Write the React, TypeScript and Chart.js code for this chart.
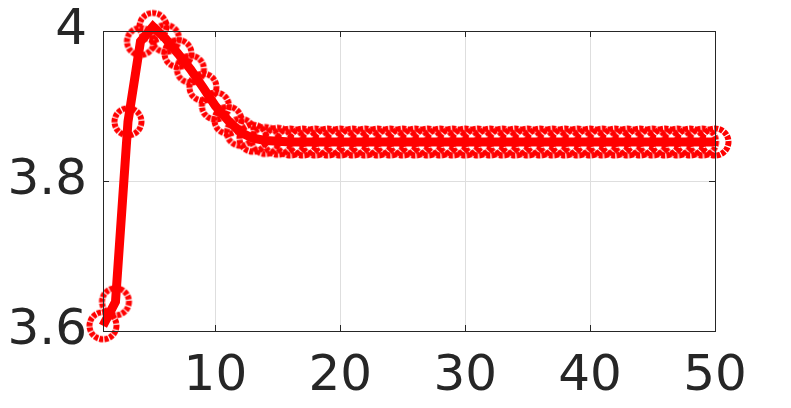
import React, { useEffect, useRef } from "react";
import { Chart, registerables } from "chart.js";

Chart.register(...registerables);

const xValues = Array.from({ length: 50 }, (_, i) => i + 1);
const yValues = [
  3.607, 3.639, 3.879, 3.986, 4.006, 3.99, 3.97, 3.949, 3.925, 3.9,
  3.881, 3.865, 3.857, 3.854, 3.853, 3.852, 3.852, 3.852, 3.852, 3.852,
  3.852, 3.852, 3.852, 3.852, 3.852, 3.852, 3.852, 3.852, 3.852, 3.852,
  3.852, 3.852, 3.852, 3.852, 3.852, 3.852, 3.852, 3.852, 3.852, 3.852,
  3.852, 3.852, 3.852, 3.852, 3.852, 3.852, 3.852, 3.852, 3.852, 3.852,
];
const xTicks = [10, 20, 30, 40, 50];
const yTicks = [3.6, 3.8, 4];
const yTickLabels = ["3.6", "3.8", "4"];

const RED = "#ff0000";
const AXIS = "#262626";
const FONT = "'DejaVu Sans', sans-serif";

function makeMarker(): HTMLCanvasElement {
  const c = document.createElement("canvas");
  c.width = 36;
  c.height = 36;
  const ctx = c.getContext("2d")!;
  ctx.strokeStyle = RED;
  ctx.lineWidth = 6;
  ctx.setLineDash([4, 1.2]);
  ctx.beginPath();
  ctx.arc(18, 18, 13.5, 0, Math.PI * 2);
  ctx.stroke();
  return c;
}

const boxPlugin = {
  id: "boxPlugin",
  afterDatasetsDraw(chart: any) {
    const { ctx, chartArea: a, scales } = chart;
    ctx.save();
    ctx.strokeStyle = AXIS;
    ctx.lineWidth = 1;
    ctx.strokeRect(Math.round(a.left) + 0.5, Math.round(a.top) + 0.5, Math.round(a.right - a.left), Math.round(a.bottom - a.top));
    const L = 6;
    ctx.beginPath();
    for (const v of xTicks) {
      const px = Math.round(scales.x.getPixelForValue(v)) + 0.5;
      ctx.moveTo(px, a.bottom);
      ctx.lineTo(px, a.bottom - L);
      ctx.moveTo(px, a.top);
      ctx.lineTo(px, a.top + L);
    }
    for (const v of yTicks) {
      const py = Math.round(scales.y.getPixelForValue(v)) + 0.5;
      ctx.moveTo(a.left, py);
      ctx.lineTo(a.left + L, py);
      ctx.moveTo(a.right, py);
      ctx.lineTo(a.right - L, py);
    }
    ctx.stroke();
    ctx.restore();
  },
};

export default function App() {
  const ref = useRef<HTMLCanvasElement>(null);
  useEffect(() => {
    const marker = makeMarker();
    const chart = new Chart(ref.current!, {
      type: "line",
      data: {
        datasets: [
          {
            data: xValues.map((x, i) => ({ x, y: yValues[i] })),
            borderColor: RED,
            borderWidth: 9,
            pointStyle: marker as any,
            pointRadius: 16,
            clip: false as any,
            tension: 0,
          },
        ],
      },
      options: {
        animation: false,
        responsive: false,
        devicePixelRatio: 1,
        layout: { padding: { top: 31, right: 76, left: 0, bottom: 0 } },
        plugins: { legend: { display: false }, tooltip: { enabled: false } },
        scales: {
          x: {
            type: "linear",
            min: 1,
            max: 50,
            afterBuildTicks: (s: any) => {
              s.ticks = xTicks.map((v) => ({ value: v }));
            },
            afterFit: (s: any) => {
              s.height = 77;
              s.paddingLeft = 0;
              s.paddingRight = 0;
            },
            grid: { color: "#dedede", drawTicks: false },
            border: { display: false },
            ticks: {
              color: AXIS,
              font: { family: FONT, size: 50 },
              padding: 16,
              maxRotation: 0,
              callback: (v: any) => String(v),
            },
          },
          y: {
            type: "linear",
            min: 3.6,
            max: 4,
            afterBuildTicks: (s: any) => {
              s.ticks = yTicks.map((v) => ({ value: v }));
            },
            afterFit: (s: any) => {
              s.width = 103;
              s.paddingTop = 0;
              s.paddingBottom = 0;
            },
            grid: { color: "#dedede", drawTicks: false },
            border: { display: false },
            ticks: {
              color: AXIS,
              font: { family: FONT, size: 50 },
              padding: 16,
              callback: (v: any) => {
                const i = yTicks.findIndex((t) => Math.abs(t - v) < 1e-9);
                return i >= 0 ? yTickLabels[i] : "";
              },
            },
          },
        },
      },
      plugins: [boxPlugin],
    });
    return () => chart.destroy();
  }, []);
  return (
    <div style={{ position: "fixed", left: 0, top: 0, width: 791, height: 408, background: "#fff" }}>
      <canvas ref={ref} width={791} height={408} style={{ width: 791, height: 408 }} />
    </div>
  );
}
